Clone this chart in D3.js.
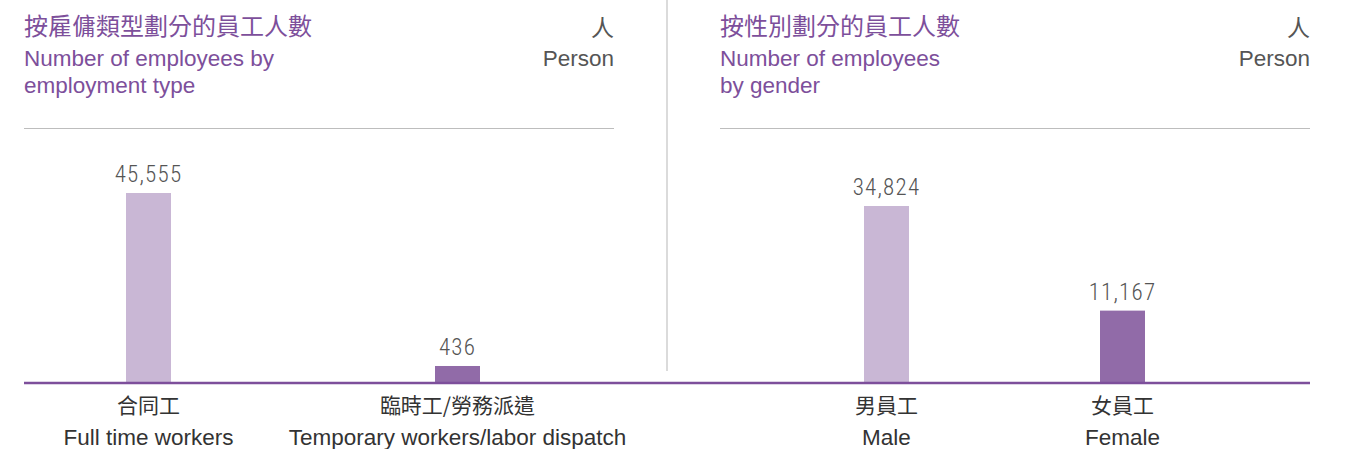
<!DOCTYPE html>
<html>
<head>
<meta charset="utf-8">
<script src="https://cdn.jsdelivr.net/npm/d3@7"></script>
<style>
  html, body { margin: 0; padding: 0; background: #fff; }
  svg { display: block; }
</style>
</head>
<body>
<svg id="chart" width="1345" height="449"></svg>
<script>
// Employment type panel
const typeCategoriesZh = ["合同工", "臨時工/勞務派遣"];
const typeCategoriesEn = ["Full time workers", "Temporary workers/labor dispatch"];
const typeValues = [45555, 436];

// Gender panel
const genderCategoriesZh = ["男員工", "女員工"];
const genderCategoriesEn = ["Male", "Female"];
const genderValues = [34824, 11167];

const titlesZh = ["按雇傭類型劃分的員工人數", "按性別劃分的員工人數"];
const titlesEn = [["Number of employees by", "employment type"], ["Number of employees", "by gender"]];
const unitZh = "人";
const unitEn = "Person";

const barColors = ["#c9b7d5", "#916ba8"];
const purple = "#7d4f9b";

const svg = d3.select("#chart");
const baseline = 383;

const panels = [
  {
    x0: 24, x1: 614, zh: typeCategoriesZh, en: typeCategoriesEn, values: typeValues,
    titleZh: titlesZh[0], titleEn: titlesEn[0],
    xRange: [148.5, 457.5], floor: -4000, top: 193
  },
  {
    x0: 720, x1: 1310, zh: genderCategoriesZh, en: genderCategoriesEn, values: genderValues,
    titleZh: titlesZh[1], titleEn: titlesEn[1],
    xRange: [886.5, 1122.5], floor: -5200, top: 206
  }
];

// vertical divider between the panels
svg.append("line")
  .attr("x1", 667).attr("x2", 667).attr("y1", 0).attr("y2", 371)
  .attr("stroke", "#cfcfcf").attr("stroke-width", 1.5);

panels.forEach(p => {
  const g = svg.append("g");

  // headings
  g.append("text").attr("x", p.x0).attr("y", 35)
    .attr("font-family", "'Noto Sans CJK TC', sans-serif").attr("font-size", 24)
    .attr("fill", purple).text(p.titleZh);
  p.titleEn.forEach((t, i) => {
    g.append("text").attr("x", p.x0).attr("y", 66 + i * 27)
      .attr("font-family", "'Liberation Sans', Arial, sans-serif").attr("font-size", 22.5)
      .attr("fill", purple).text(t);
  });
  g.append("text").attr("x", p.x1).attr("y", 36).attr("text-anchor", "end")
    .attr("font-family", "'Noto Sans CJK TC', sans-serif").attr("font-size", 23)
    .attr("fill", "#555").text(unitZh);
  g.append("text").attr("x", p.x1).attr("y", 66).attr("text-anchor", "end")
    .attr("font-family", "'Liberation Sans', Arial, sans-serif").attr("font-size", 22.5)
    .attr("fill", "#555").text(unitEn);

  // heading rule
  g.append("line").attr("x1", p.x0).attr("x2", p.x1).attr("y1", 128.5).attr("y2", 128.5)
    .attr("stroke", "#bdbdbd").attr("stroke-width", 1);

  const x = d3.scalePoint().domain(p.zh).range(p.xRange);
  const y = d3.scaleLinear().domain([p.floor, d3.max(p.values)]).range([baseline, p.top]);
  const bw = 45;

  const data = p.values.map((v, i) => ({ zh: p.zh[i], en: p.en[i], v, i }));

  g.selectAll("rect.bar").data(data).join("rect")
    .attr("class", "bar")
    .attr("x", d => x(d.zh) - bw / 2)
    .attr("width", bw)
    .attr("y", d => y(d.v))
    .attr("height", d => baseline - y(d.v))
    .attr("fill", d => barColors[d.i]);

  g.selectAll("text.val").data(data).join("text")
    .attr("class", "val")
    .attr("x", d => x(d.zh))
    .attr("y", d => y(d.v) - 11)
    .attr("text-anchor", "middle")
    .attr("font-family", "'Roboto Condensed', Roboto, sans-serif")
    .attr("font-weight", 300)
    .attr("font-size", 23)
    .attr("letter-spacing", 1.2)
    .attr("fill", "#555")
    .text(d => d3.format(",")(d.v));

  g.selectAll("text.zh").data(data).join("text")
    .attr("class", "zh")
    .attr("x", d => x(d.zh))
    .attr("y", 413)
    .attr("text-anchor", "middle")
    .attr("font-family", "'Noto Sans CJK TC', sans-serif")
    .attr("font-size", 21)
    .attr("fill", "#333")
    .text(d => d.zh);

  g.selectAll("text.en").data(data).join("text")
    .attr("class", "en")
    .attr("x", d => x(d.zh))
    .attr("y", 445)
    .attr("text-anchor", "middle")
    .attr("font-family", "'Liberation Sans', Arial, sans-serif")
    .attr("font-size", 22.5)
    .attr("fill", "#333")
    .text(d => d.en);
});

// shared baseline
svg.append("line")
  .attr("x1", 24).attr("x2", 1310).attr("y1", baseline).attr("y2", baseline)
  .attr("stroke", purple).attr("stroke-width", 2.5);
</script>
</body>
</html>
